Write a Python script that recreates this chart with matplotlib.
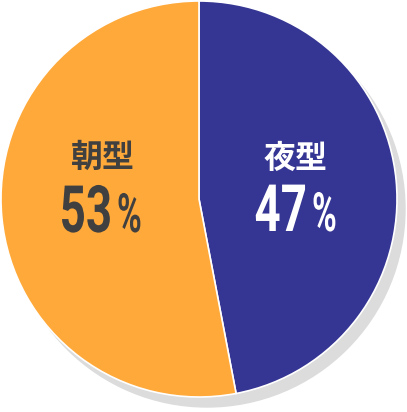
import matplotlib.pyplot as plt
from matplotlib.patches import Circle
from matplotlib.patheffects import AbstractPathEffect
from matplotlib.transforms import Affine2D

labels = ['夜型', '朝型']
values = [47, 53]
colors = ['#353594', '#FFA93A']
text_colors = ['white', '#404040']

W, H = 407, 412
cx, cy, R = 199, H - 199, 198


class Squeeze(AbstractPathEffect):
    """narrow the glyphs horizontally around x0 (display px)"""
    def __init__(self, sx, x0):
        super().__init__()
        self.sx, self.x0 = sx, x0

    def draw_path(self, renderer, gc, tpath, affine, rgbFace=None):
        t = affine + Affine2D().translate(-self.x0, 0).scale(self.sx, 1).translate(self.x0, 0)
        renderer.draw_path(gc, tpath, t, rgbFace)


fig = plt.figure(figsize=(W / 100, H / 100), dpi=100)
ax = fig.add_axes([0, 0, 1, 1])

# grey shadow behind the pie
ax.add_patch(Circle((cx + 8, cy - 10), R, color='#dcdcdc', zorder=0))

ax.pie(values, colors=colors, startangle=90, counterclock=False,
       center=(cx, cy), radius=R,
       wedgeprops=dict(edgecolor='white', linewidth=1.2))

ax.set_xlim(0, W)
ax.set_ylim(0, H)
ax.set_aspect('equal')
ax.axis('off')

# (kanji centre x, kanji y, number right edge, baseline) in px from top-left
pos = [(296, 159, 307, 231), (103, 158, 112, 232)]
for lab, val, tc, (x, ylab, xr, ybase) in zip(labels, values, text_colors, pos):
    ax.text(x, H - ylab, lab, ha='center', va='center', color=tc,
            fontsize=23, fontweight='bold', family=['Noto Sans CJK JP', 'DejaVu Sans'])
    x0 = ax.transData.transform((xr, 0))[0]
    ax.text(xr, H - ybase, str(val), ha='right', va='baseline', color=tc,
            fontsize=47, fontweight='bold', family=['Roboto', 'DejaVu Sans'],
            path_effects=[Squeeze(0.7, x0)])
    x1 = ax.transData.transform((xr + 5, 0))[0]
    ax.text(xr + 5, H - ybase, '%', ha='left', va='baseline', color=tc,
            fontsize=39, fontweight='bold', family=['Roboto', 'DejaVu Sans'],
            path_effects=[Squeeze(0.62, x1)])

fig.savefig('out.png', dpi=100)
